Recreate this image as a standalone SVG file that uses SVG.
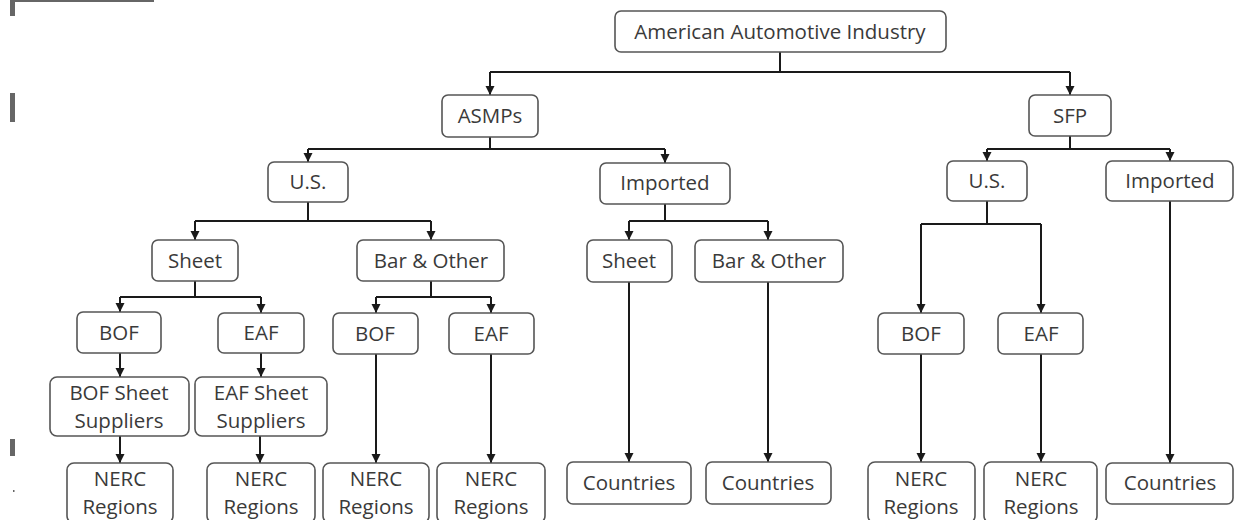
<svg xmlns="http://www.w3.org/2000/svg" width="1243" height="520" viewBox="0 0 1243 520">
<style>
.n rect{fill:#fff;stroke:#555;stroke-width:1.6}
.n text{font-family:"Open Sans","Liberation Sans",sans-serif;font-size:20.5px;fill:#3a3a3a;text-anchor:middle}
.c path{fill:none;stroke:#1a1a1a;stroke-width:2}
.a{fill:#666}
</style>
<defs>
<marker id="ad" markerWidth="10" markerHeight="9" refX="5" refY="9" orient="0" markerUnits="userSpaceOnUse" viewBox="0 0 10 9">
<path d="M0.5,0 L9.5,0 L5,9 Z" fill="#1a1a1a"/>
</marker>
</defs>
<rect width="1243" height="520" fill="#fff"/>
<g id="artifacts">
<rect class="a" x="10" y="0" width="144" height="2"/>
<rect class="a" x="10" y="0" width="5" height="16"/>
<rect class="a" x="10" y="93" width="5" height="29"/>
<rect class="a" x="10" y="439" width="5" height="17"/>
<rect class="a" x="13" y="490" width="1.5" height="2"/>
</g>
<g class="c" id="connectors">
<path d="M780,52 V72 M490,72 H1070"/>
<path d="M490,72 V95" marker-end="url(#ad)"/>
<path d="M1070,72 V95" marker-end="url(#ad)"/>
<path d="M490,137 V149 M308,149 H665"/>
<path d="M308,149 V162" marker-end="url(#ad)"/>
<path d="M665,149 V163" marker-end="url(#ad)"/>
<path d="M1070,136 V149 M987,149 H1170"/>
<path d="M987,149 V161" marker-end="url(#ad)"/>
<path d="M1170,149 V161" marker-end="url(#ad)"/>
<path d="M308,202 V221 M195,221 H431"/>
<path d="M195,221 V240" marker-end="url(#ad)"/>
<path d="M431,221 V240" marker-end="url(#ad)"/>
<path d="M665,204 V221 M629,221 H768"/>
<path d="M629,221 V240" marker-end="url(#ad)"/>
<path d="M768,221 V240" marker-end="url(#ad)"/>
<path d="M195,281 V297 M120,297 H261"/>
<path d="M120,297 V312" marker-end="url(#ad)"/>
<path d="M261,297 V313" marker-end="url(#ad)"/>
<path d="M431,281 V297 M376,297 H491"/>
<path d="M376,297 V313" marker-end="url(#ad)"/>
<path d="M491,297 V313" marker-end="url(#ad)"/>
<path d="M120,353 V377" marker-end="url(#ad)"/>
<path d="M261,353 V377" marker-end="url(#ad)"/>
<path d="M120,436 V463" marker-end="url(#ad)"/>
<path d="M260,436 V463" marker-end="url(#ad)"/>
<path d="M376,354 V463" marker-end="url(#ad)"/>
<path d="M491,354 V463" marker-end="url(#ad)"/>
<path d="M629,282 V462" marker-end="url(#ad)"/>
<path d="M768,282 V462" marker-end="url(#ad)"/>
<path d="M987,201 V224 M921,224 H1041"/>
<path d="M921,224 V313" marker-end="url(#ad)"/>
<path d="M1041,224 V313" marker-end="url(#ad)"/>
<path d="M921,354 V462" marker-end="url(#ad)"/>
<path d="M1041,354 V462" marker-end="url(#ad)"/>
<path d="M1170,201 V463" marker-end="url(#ad)"/>
</g>
<g class="n" id="root"><rect x="615" y="11" width="331" height="41" rx="6"/><text x="780" y="39">American Automotive Industry</text></g>
<g class="n" id="asmps"><rect x="442" y="95" width="96" height="42" rx="6"/><text x="490" y="123">ASMPs</text></g>
<g class="n" id="sfp"><rect x="1029" y="95" width="82" height="41" rx="6"/><text x="1070" y="123">SFP</text></g>
<g class="n" id="asmp-us"><rect x="268" y="162" width="80" height="40" rx="6"/><text x="308" y="189">U.S.</text></g>
<g class="n" id="asmp-imported"><rect x="600" y="163" width="130" height="41" rx="6"/><text x="665" y="190">Imported</text></g>
<g class="n" id="sfp-us"><rect x="947" y="161" width="80" height="40" rx="6"/><text x="987" y="188">U.S.</text></g>
<g class="n" id="sfp-imported"><rect x="1106" y="161" width="127" height="40" rx="6"/><text x="1170" y="188">Imported</text></g>
<g class="n" id="us-sheet"><rect x="152" y="240" width="86" height="41" rx="6"/><text x="195" y="268">Sheet</text></g>
<g class="n" id="us-bar"><rect x="357" y="240" width="147" height="41" rx="6"/><text x="431" y="268">Bar &amp; Other</text></g>
<g class="n" id="imp-sheet"><rect x="587" y="240" width="85" height="42" rx="6"/><text x="629" y="268">Sheet</text></g>
<g class="n" id="imp-bar"><rect x="695" y="240" width="148" height="42" rx="6"/><text x="769" y="268">Bar &amp; Other</text></g>
<g class="n" id="sheet-bof"><rect x="77" y="312" width="84" height="41" rx="6"/><text x="119" y="340">BOF</text></g>
<g class="n" id="sheet-eaf"><rect x="218" y="313" width="86" height="40" rx="6"/><text x="261" y="340">EAF</text></g>
<g class="n" id="bar-bof"><rect x="333" y="313" width="85" height="41" rx="6"/><text x="375" y="341">BOF</text></g>
<g class="n" id="bar-eaf"><rect x="449" y="313" width="85" height="41" rx="6"/><text x="491" y="341">EAF</text></g>
<g class="n" id="sfp-bof"><rect x="878" y="313" width="86" height="41" rx="6"/><text x="921" y="341">BOF</text></g>
<g class="n" id="sfp-eaf"><rect x="998" y="313" width="85" height="41" rx="6"/><text x="1041" y="341">EAF</text></g>
<g class="n" id="bof-suppliers"><rect x="50" y="377" width="139" height="59" rx="7"/><text x="119" y="400">BOF Sheet</text><text x="119" y="428">Suppliers</text></g>
<g class="n" id="eaf-suppliers"><rect x="195" y="377" width="132" height="59" rx="7"/><text x="261" y="400">EAF Sheet</text><text x="261" y="428">Suppliers</text></g>
<g class="n" id="nerc1"><rect x="67" y="463" width="106" height="60" rx="7"/><text x="120" y="486">NERC</text><text x="120" y="514">Regions</text></g>
<g class="n" id="nerc2"><rect x="207" y="463" width="108" height="60" rx="7"/><text x="261" y="486">NERC</text><text x="261" y="514">Regions</text></g>
<g class="n" id="nerc3"><rect x="323" y="463" width="106" height="60" rx="7"/><text x="376" y="486">NERC</text><text x="376" y="514">Regions</text></g>
<g class="n" id="nerc4"><rect x="437" y="463" width="108" height="60" rx="7"/><text x="491" y="486">NERC</text><text x="491" y="514">Regions</text></g>
<g class="n" id="countries1"><rect x="567" y="462" width="124" height="42" rx="6"/><text x="629" y="490">Countries</text></g>
<g class="n" id="countries2"><rect x="706" y="462" width="125" height="42" rx="6"/><text x="768" y="490">Countries</text></g>
<g class="n" id="nerc5"><rect x="868" y="462" width="107" height="61" rx="7"/><text x="921" y="486">NERC</text><text x="921" y="514">Regions</text></g>
<g class="n" id="nerc6"><rect x="984" y="462" width="113" height="61" rx="7"/><text x="1041" y="486">NERC</text><text x="1041" y="514">Regions</text></g>
<g class="n" id="countries3"><rect x="1106" y="463" width="127" height="41" rx="6"/><text x="1170" y="490">Countries</text></g>
</svg>
